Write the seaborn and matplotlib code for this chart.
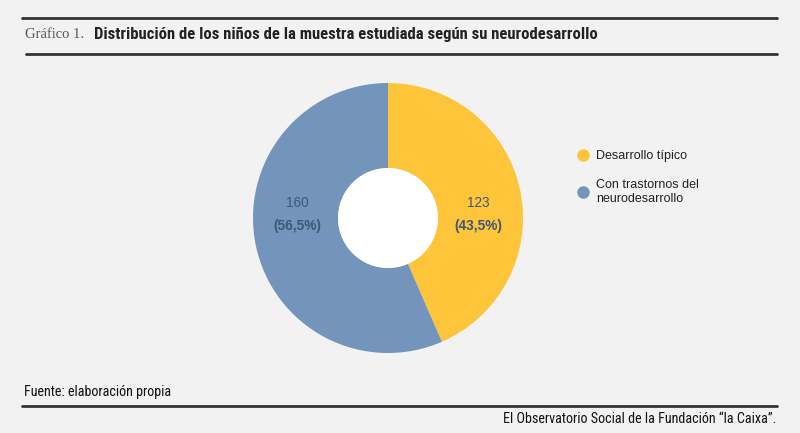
import numpy as np
import seaborn as sns
import matplotlib.pyplot as plt
from matplotlib.lines import Line2D
from matplotlib.patches import Circle
from matplotlib import font_manager

# data
categories = ["Desarrollo típico", "Con trastornos del\nneurodesarrollo"]
counts = [123, 160]
pct_labels = ["(43,5%)", "(56,5%)"]
colors = ["#FEC53A", "#7395BB"]

sns.set_theme(style="white")
plt.rcParams['font.family'] = ['Liberation Sans', 'DejaVu Sans']

# pick a narrow face if one is installed
names = {f.name for f in font_manager.fontManager.ttflist}
narrow = next((n for n in ["Roboto Condensed", "Liberation Sans Narrow", "Open Sans Condensed"]
               if n in names), None)
narrow_fam = [narrow, "Liberation Sans"] if narrow else ["Liberation Sans"]

W, H = 800, 433
fig = plt.figure(figsize=(8, 4.33), dpi=100)
fig.patch.set_facecolor("#f2f2f2")


def fx(px):
    return px / W


def fy(py):
    return 1 - py / H


# donut axes, centre (388, 218), radius 135 px
cx, cy, r = 388, 218, 135
ax = fig.add_axes([fx(cx - r), fy(cy + r), 2 * r / W, 2 * r / H])
ax.set_facecolor("none")
wedges, _ = ax.pie(counts, colors=colors, startangle=90, counterclock=False,
                   radius=1, wedgeprops=dict(width=0.63, linewidth=0))
ax.add_patch(Circle((0, 0), 0.37, facecolor="white", edgecolor="none"))
ax.set_xlim(-1, 1)
ax.set_ylim(-1, 1)
ax.set_aspect("auto")
ax.axis("off")

# value labels in the ring
for w, n, p in zip(wedges, counts, pct_labels):
    mid = np.deg2rad((w.theta1 + w.theta2) / 2)
    x = np.sign(np.cos(mid)) * 0.67
    ax.text(x, 0.11, str(n), ha="center", va="center", fontsize=9.8,
            color="#3d5878")
    ax.text(x, -0.06, p, ha="center", va="center", fontsize=9.8,
            color="#3d5878", fontweight="bold")

# legend
handles = [Line2D([], [], marker="o", linestyle="none", markersize=9,
                  markerfacecolor=c, markeredgewidth=0) for c in colors]
leg = fig.legend(handles, categories, loc="upper left",
                 bbox_to_anchor=(fx(569), fy(145)), frameon=False, fontsize=9,
                 handletextpad=0.3, labelspacing=1.35, handlelength=1.5,
                 borderaxespad=0, labelcolor="#222222")

# header / footer rules
for y, x0 in [(18, 22), (54, 26), (406, 22)]:
    fig.add_artist(Line2D([fx(x0), fx(777)], [fy(y), fy(y)],
                          transform=fig.transFigure, color="#333333", lw=2.0))

fig.text(fx(25), fy(35), "Gráfico 1.", family=["Liberation Serif", "DejaVu Serif"],
         fontsize=10.5, color="#555555", va="center")
title_size = 12 if narrow else 9.6
fig.text(fx(94), fy(35), "Distribución de los niños de la muestra estudiada según su neurodesarrollo",
         family=narrow_fam, fontweight="bold",
         fontsize=title_size, color="#222222", va="center")
foot_size = 10.2 if narrow else 8.6
fig.text(fx(24), fy(392), "Fuente: elaboración propia",
         family=narrow_fam, fontsize=foot_size, color="#111111", va="center")
fig.text(fx(776), fy(419), "El Observatorio Social de la Fundación “la Caixa”.",
         family=narrow_fam, fontsize=foot_size, color="#111111", va="center", ha="right")

fig.savefig("out.png", dpi=100, facecolor=fig.get_facecolor())
